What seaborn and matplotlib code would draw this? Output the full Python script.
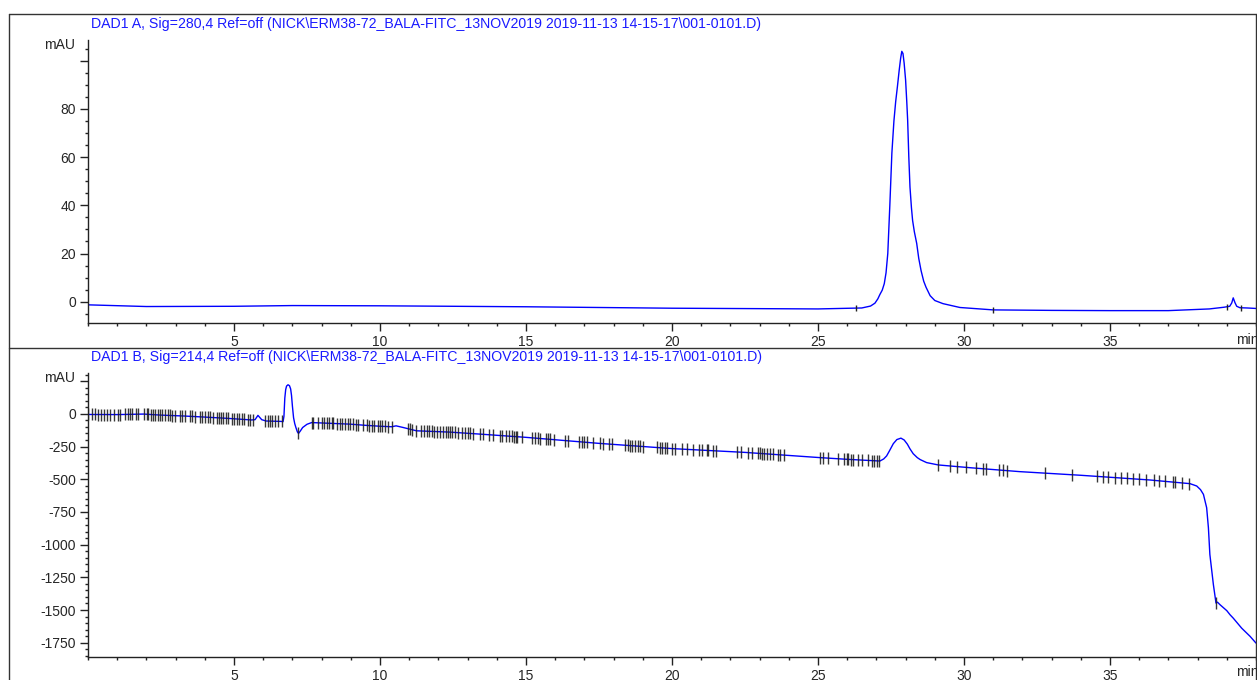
import numpy as np
import matplotlib
matplotlib.use("Agg")
import matplotlib.pyplot as plt
from matplotlib.ticker import MultipleLocator, FixedLocator
from matplotlib.lines import Line2D
import seaborn as sns

# titles of the two detector signals
title_a = r"DAD1 A, Sig=280,4 Ref=off (NICK\ERM38-72_BALA-FITC_13NOV2019 2019-11-13 14-15-17\001-0101.D)"
title_b = r"DAD1 B, Sig=214,4 Ref=off (NICK\ERM38-72_BALA-FITC_13NOV2019 2019-11-13 14-15-17\001-0101.D)"

# signal A (280 nm), time in min / mAU
time_a = [0, 2, 5, 7, 10, 15, 20, 25, 26.5, 26.8, 26.95, 27.05, 27.12, 27.2, 27.27, 27.33,
          27.39, 27.46, 27.53, 27.6, 27.66, 27.72, 27.78, 27.83, 27.87, 27.91, 27.95, 28.0,
          28.04, 28.07, 28.11, 28.15, 28.2, 28.24, 28.3, 28.38, 28.45, 28.53, 28.62, 28.7,
          28.84, 29.0, 29.28, 29.86, 31, 33, 35, 37, 38.4, 38.9, 39.1, 39.17, 39.22, 39.28,
          39.34, 39.45, 39.7, 40]
mau_a = [-1.3, -2.0, -1.9, -1.6, -1.7, -2.1, -2.7, -3.0, -2.6, -1.8, -0.6, 1.2, 3.0, 4.8, 7.5, 12,
         20, 40, 61.7, 75, 83, 89.3, 96, 101, 103.9, 103, 99, 92,
         83, 75.4, 60, 47.6, 39, 33.7, 29, 24.2, 18, 12.9, 8.5, 6,
         2.5, 0.5, -0.8, -2.4, -3.4, -3.6, -3.7, -3.7, -3.0, -2.3, -1.9, -0.5, 1.6, -0.4,
         -1.9, -2.5, -2.6, -2.8]
events_a = [26.3, 31.0, 39.0, 39.5]

# signal B (214 nm)
time_b = [0, 1, 1.9, 2.5, 3.3, 4.0, 4.8, 5.6, 5.72, 5.82, 5.95, 6.1, 6.6, 6.68, 6.71, 6.74,
          6.77, 6.80, 6.85, 6.90, 6.94, 6.97, 7.0, 7.04, 7.08, 7.12, 7.17, 7.21, 7.27, 7.35,
          7.5, 7.66, 8.0, 8.97, 9.5, 10.0, 10.4, 10.55, 10.8, 11.25, 12.4, 13.54, 15, 17.5, 20,
          22.5, 25.07, 26.0, 27.12, 27.25, 27.35, 27.45, 27.58, 27.7, 27.84, 27.95, 28.06,
          28.15, 28.26, 28.4, 28.5, 28.72, 29.12, 30.2, 31.9, 34, 36.37, 37.74, 37.97, 38.1,
          38.2, 38.31, 38.37, 38.42, 38.54, 38.63, 38.68, 38.77, 39.0, 39.11, 39.22, 39.51,
          39.8, 40.0]
mau_b = [-5, -6, -2, -10, -17, -25, -35, -47, -45, -12, -45, -55, -58, -60, -20, 120,
         185, 212, 222, 215, 190, 140, 60, -30, -75, -105, -138, -150, -132, -105,
         -80, -67, -70, -79, -88, -95, -99, -92, -105, -130, -140, -157, -180, -226, -266,
         -295, -335, -348, -361, -345, -322, -282, -228, -197, -186, -200, -232,
         -268, -305, -335, -350, -373, -391, -412, -442, -470, -506, -534, -552, -580,
         -616, -718, -871, -1075, -1305, -1447, -1440, -1460, -1505, -1536, -1562, -1639,
         -1702, -1753]
events_b = [0.01, 0.15, 0.24, 0.35, 0.45, 0.56, 0.64, 0.75, 0.90, 1.02, 1.10, 1.27, 1.36, 1.44,
            1.52, 1.63, 1.70, 1.93, 2.01, 2.07, 2.16, 2.24, 2.29, 2.39, 2.47, 2.55, 2.64, 2.73,
            2.81, 2.89, 2.98, 3.15, 3.23, 3.32, 3.49, 3.57, 3.66, 3.84, 3.92, 4.01, 4.10, 4.18,
            4.29, 4.41, 4.49, 4.55, 4.63, 4.71, 4.81, 4.92, 5.01, 5.09, 5.17, 5.26, 5.35, 5.47,
            5.55, 5.66, 6.06, 6.15, 6.23, 6.31, 6.40, 6.49, 6.63, 7.20, 7.66, 7.72, 7.89, 8.03,
            8.09, 8.17, 8.25, 8.35, 8.40, 8.52, 8.63, 8.71, 8.80, 8.89, 8.97, 9.06, 9.17, 9.24,
            9.43, 9.54, 9.62, 9.72, 9.81, 9.92, 10.00, 10.06, 10.17, 10.26, 10.40, 10.95, 11.03,
            11.09, 11.22, 11.40, 11.52, 11.60, 11.68, 11.77, 11.86, 11.94, 12.06, 12.17, 12.25,
            12.32, 12.40, 12.48, 12.57, 12.68, 12.80, 12.91, 13.00, 13.08, 13.20, 13.43, 13.54,
            13.73, 13.88, 14.11, 14.19, 14.30, 14.42, 14.51, 14.60, 14.65, 14.68, 14.87, 15.19,
            15.31, 15.42, 15.48, 15.67, 15.74, 15.82, 15.97, 16.34, 16.45, 16.81, 16.91, 17.00,
            17.08, 17.31, 17.53, 17.65, 17.84, 17.93, 18.39, 18.48, 18.56, 18.64, 18.73, 18.82,
            18.90, 19.02, 19.47, 19.59, 19.67, 19.76, 19.82, 19.99, 20.10, 20.33, 20.50, 20.73,
            20.92, 21.04, 21.19, 21.24, 21.42, 21.50, 22.21, 22.36, 22.59, 22.73, 22.93, 23.01,
            23.09, 23.16, 23.24, 23.36, 23.47, 23.62, 23.70, 23.85, 25.07, 25.18, 25.35, 25.70,
            25.90, 25.98, 26.04, 26.13, 26.21, 26.36, 26.50, 26.70, 26.84, 26.93, 27.01, 27.09,
            29.12, 29.52, 29.77, 30.07, 30.41, 30.66, 30.74, 31.20, 31.33, 31.46, 32.77, 33.70,
            34.55, 34.76, 34.93, 35.17, 35.38, 35.58, 35.79, 35.99, 36.23, 36.51, 36.69, 36.88,
            37.17, 37.23, 37.46, 37.72, 38.63]

x_major = [5, 10, 15, 20, 25, 30, 35]
yticks_a = [0, 20, 40, 60, 80, 100]
yticks_b = [-1750, -1500, -1250, -1000, -750, -500, -250, 0, 250]

sns.set_style("ticks")
plt.rcParams['font.family'] = ['Liberation Sans', 'DejaVu Sans']
plt.rcParams['font.size'] = 10

W, H = 1257, 680
fig = plt.figure(figsize=(W / 100, H / 100), dpi=100)


def px_axes(left, top, right, bottom):
    return fig.add_axes([left / W, 1 - bottom / H, (right - left) / W, (bottom - top) / H])


ax_a = px_axes(88, 40, 1256, 323.3)
ax_b = px_axes(88, 373, 1256, 656.7)

blue = "#0000ff"

sns.lineplot(x=time_a, y=mau_a, ax=ax_a, color=blue, lw=1)
sns.lineplot(x=time_b, y=mau_b, ax=ax_b, color=blue, lw=1)

ax_a.plot(events_a, np.interp(events_a, time_a, mau_a), ls="none", marker="|",
          ms=5, mew=1, color="#222222")
ax_b.plot(events_b, np.interp(events_b, time_b, mau_b), ls="none", marker="|",
          ms=8, mew=1, color="#222222", alpha=0.9)

for ax, yt, ymin, ymax, yminor in [(ax_a, yticks_a, -8.96, 108.6, 5),
                                   (ax_b, yticks_b, -1857, 312, 50)]:
    ax.set_xlim(0, 40.0)
    ax.set_ylim(ymin, ymax)
    ax.xaxis.set_major_locator(FixedLocator(x_major))
    ax.xaxis.set_minor_locator(MultipleLocator(1))
    ax.yaxis.set_major_locator(FixedLocator(yt))
    ax.yaxis.set_minor_locator(MultipleLocator(yminor))
    ax.set_yticklabels([str(v) for v in yt[:-1]] + [""])
    ax.set_xlabel("")
    ax.set_ylabel("")
    for s in ["top", "right"]:
        ax.spines[s].set_visible(False)
    for s in ["left", "bottom"]:
        ax.spines[s].set_linewidth(1.0)
        ax.spines[s].set_color("#222222")
    ax.tick_params(axis="both", which="major", direction="out", length=5.5, width=1,
                   color="#222222", labelsize=10, pad=3)
    ax.tick_params(axis="both", which="minor", direction="out", length=2.5, width=1,
                   color="#222222")
    ax.patch.set_alpha(0)

# unit labels
fig.text(75 / W, 1 - 45 / H, "mAU", ha="right", va="center", fontsize=10)
fig.text(75 / W, 1 - 378 / H, "mAU", ha="right", va="center", fontsize=10)
fig.text(1236 / W, 1 - 340 / H, "min", ha="left", va="center", fontsize=10)
fig.text(1236 / W, 1 - 672 / H, "min", ha="left", va="center", fontsize=10)

# titles
fig.text(91 / W, 1 - 24 / H, title_a, ha="left", va="center", color="#1a1aff", fontsize=10.2)
fig.text(91 / W, 1 - 357 / H, title_b, ha="left", va="center", color="#1a1aff", fontsize=10.2)

# panel frame
frame_kw = dict(color="#333333", lw=1, transform=fig.transFigure)
fig.add_artist(Line2D([9 / W, 9 / W], [0, 1 - 14 / H], **frame_kw))
fig.add_artist(Line2D([9 / W, 1256 / W], [1 - 14 / H, 1 - 14 / H], **frame_kw))
fig.add_artist(Line2D([1256 / W, 1256 / W], [0, 1 - 14 / H], **frame_kw))
fig.add_artist(Line2D([9 / W, 1256 / W], [1 - 347.7 / H, 1 - 347.7 / H], **frame_kw))

fig.savefig("out.png", dpi=100, facecolor="white")
